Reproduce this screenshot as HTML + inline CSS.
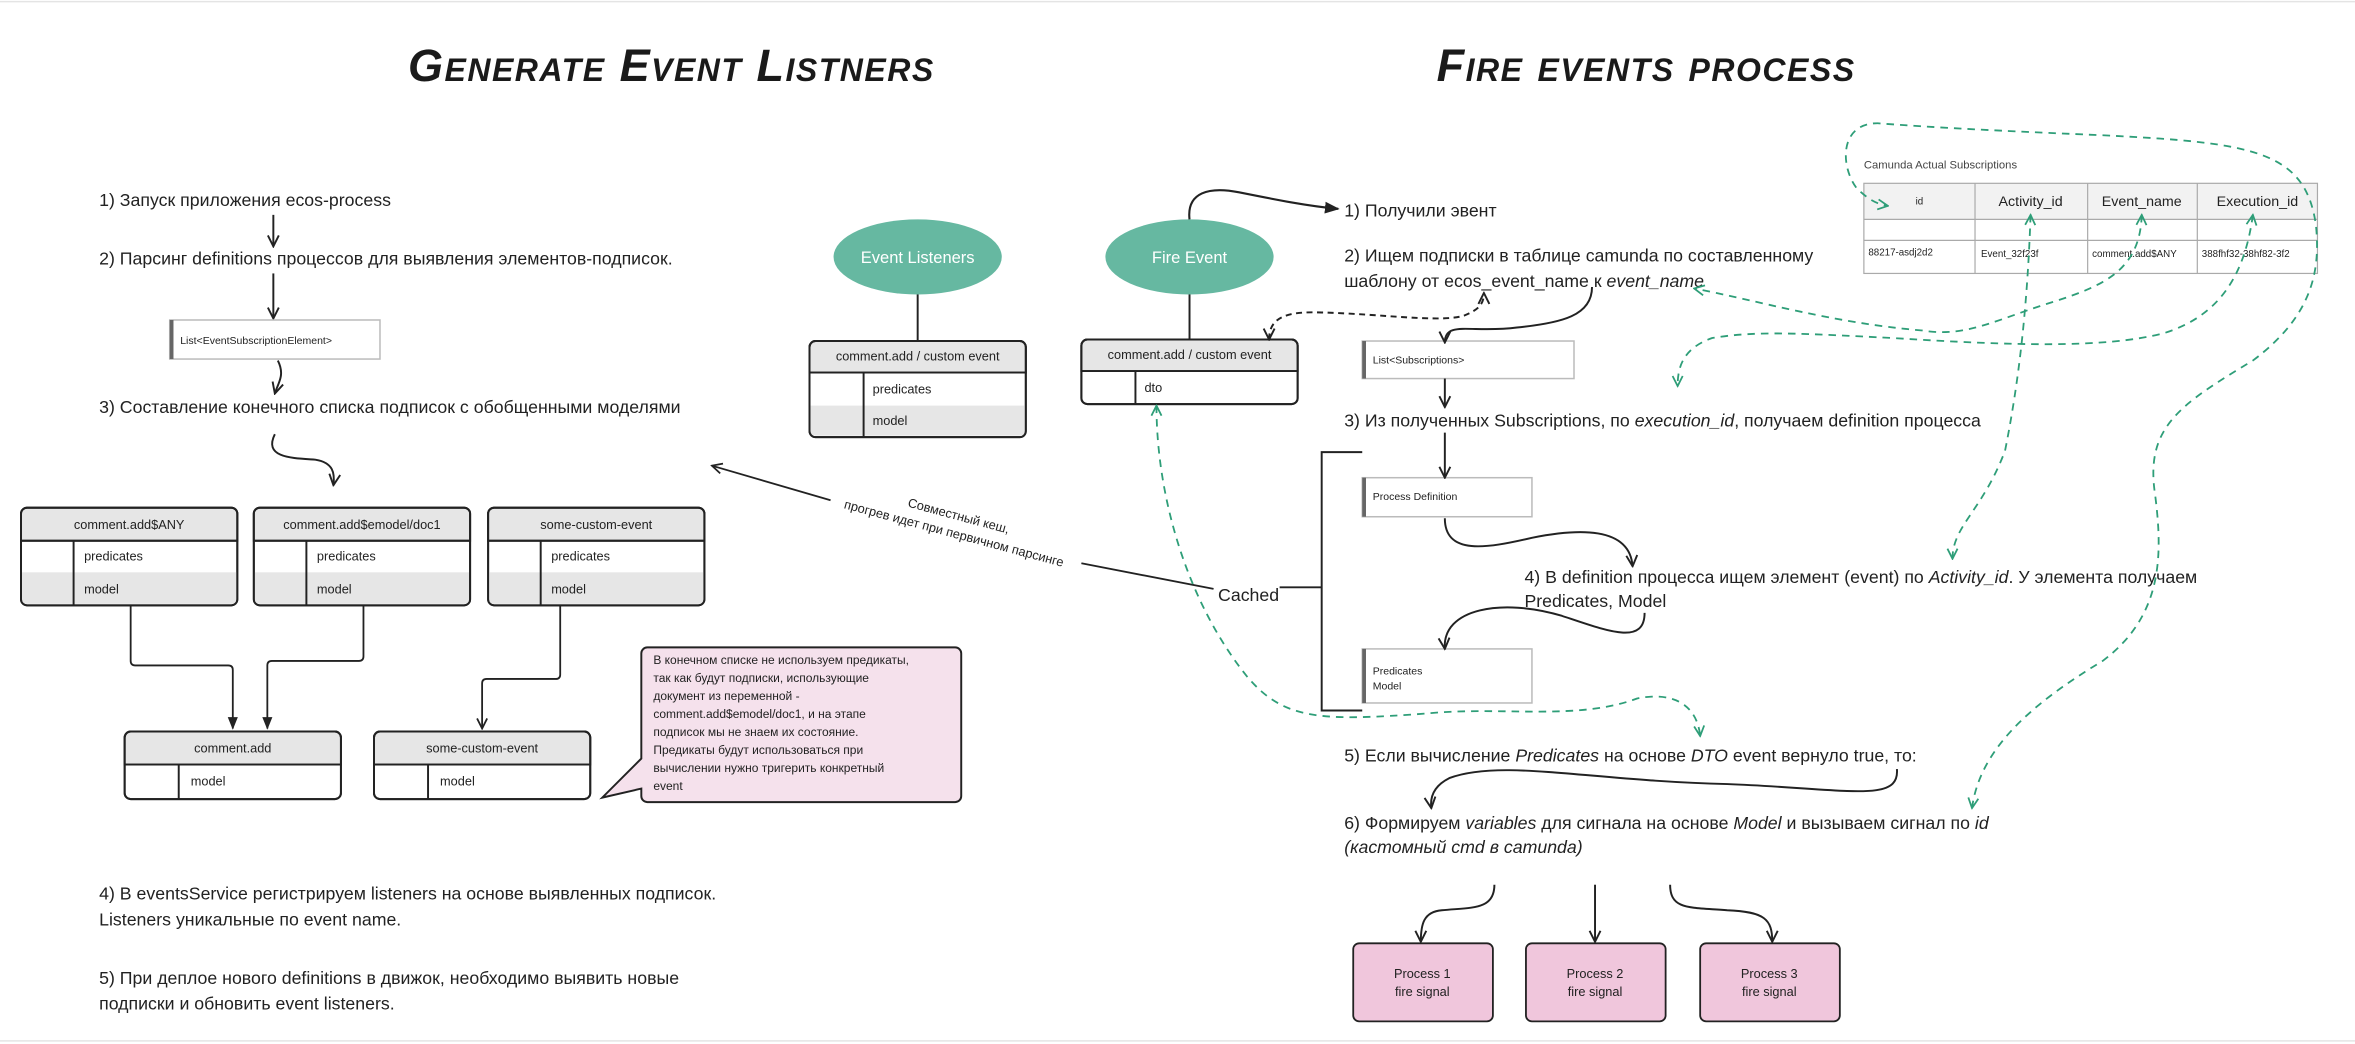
<!DOCTYPE html>
<html><head><meta charset="utf-8"><style>
html,body{margin:0;padding:0;background:#fff;}
svg{display:block;}
text{font-family:"Liberation Sans","DejaVu Sans",sans-serif;fill:#222;}
.t{font-size:11.8px;}
.s{font-size:8.5px;}
.c{font-size:8px;}
.xs{font-size:7px;}
.title{font-size:30px;font-weight:bold;font-style:italic;font-variant:small-caps;fill:#1a1a1a;letter-spacing:1px;}
</style></head><body>
<svg width="2355" height="1044" viewBox="0 0 1568 695" xmlns="http://www.w3.org/2000/svg">
<defs>
<marker id="a" viewBox="0 0 10 10" refX="9" refY="5" markerWidth="7" markerHeight="7" orient="auto-start-reverse"><path d="M1,1 L9,5 L1,9" fill="none" stroke="#222" stroke-width="1.4"/></marker>
<marker id="af" viewBox="0 0 10 10" refX="9" refY="5" markerWidth="7" markerHeight="7" orient="auto"><path d="M0,1 L10,5 L0,9 z" fill="#222"/></marker>
<marker id="g" viewBox="0 0 10 10" refX="9" refY="5" markerWidth="7" markerHeight="7" orient="auto-start-reverse"><path d="M1,1 L9,5 L1,9" fill="none" stroke="#2e9e78" stroke-width="1.4"/></marker>
</defs>
<rect x="0" y="0" width="1568" height="695" fill="#fff"/>
<line x1="0" y1="1" x2="1568" y2="1" stroke="#e4e4e4"/>
<line x1="0" y1="693" x2="1568" y2="693" stroke="#e4e4e4"/>

<text class="title" x="447" y="54" text-anchor="middle">Generate Event Listners</text>
<text class="title" x="1096" y="54" text-anchor="middle">Fire events process</text>

<!-- LEFT -->
<text class="t" x="66" y="137">1) Запуск приложения ecos-process</text>
<text class="t" x="66" y="176">2) Парсинг definitions процессов для выявления элементов-подписок.</text>
<text class="t" x="66" y="275">3) Составление конечного списка подписок с обобщенными моделями</text>
<text class="t" x="66" y="599">4) В eventsService регистрируем listeners на основе выявленных подписок.</text>
<text class="t" x="66" y="616">Listeners уникальные по event name.</text>
<text class="t" x="66" y="655">5) При деплое нового definitions в движок, необходимо выявить новые</text>
<text class="t" x="66" y="672">подписки и обновить event listeners.</text>
<g fill="none" stroke="#222" stroke-width="1.3">
<path d="M182,143 L182,164" marker-end="url(#a)"/>
<path d="M182,182 L182,212" marker-end="url(#a)"/>
<path d="M185,240 C190,250 185,255 183,262" marker-end="url(#a)"/>
<path d="M183,289 C175,305 195,305 210,306 C222,308 223,315 222,323" marker-end="url(#a)"/>
</g>
<rect x="113" y="213" width="140" height="26" fill="#fff" stroke="#bbb"/>
<rect x="113" y="213" width="2.5" height="26" fill="#666"/>
<text class="xs" x="120" y="229">List&lt;EventSubscriptionElement&gt;</text>

<g stroke="#222" stroke-width="1.3">
<g transform="translate(14,338)">
<rect x="0" y="0" width="144" height="65" rx="4" fill="#fff"/>
<path d="M0,22 V4 a4,4 0 0 1 4,-4 H140 a4,4 0 0 1 4,4 V22 z" fill="#e6e6e6"/>
<rect x="0.7" y="43" width="142.6" height="21" fill="#e6e6e6" stroke="none"/>
<rect x="0" y="0" width="144" height="65" rx="4" fill="none"/>
<line x1="0" y1="22" x2="144" y2="22"/><line x1="35" y1="22" x2="35" y2="65"/>
</g>
<g transform="translate(169,338)">
<rect x="0" y="0" width="144" height="65" rx="4" fill="#fff"/>
<path d="M0,22 V4 a4,4 0 0 1 4,-4 H140 a4,4 0 0 1 4,4 V22 z" fill="#e6e6e6"/>
<rect x="0.7" y="43" width="142.6" height="21" fill="#e6e6e6" stroke="none"/>
<rect x="0" y="0" width="144" height="65" rx="4" fill="none"/>
<line x1="0" y1="22" x2="144" y2="22"/><line x1="35" y1="22" x2="35" y2="65"/>
</g>
<g transform="translate(325,338)">
<rect x="0" y="0" width="144" height="65" rx="4" fill="#fff"/>
<path d="M0,22 V4 a4,4 0 0 1 4,-4 H140 a4,4 0 0 1 4,4 V22 z" fill="#e6e6e6"/>
<rect x="0.7" y="43" width="142.6" height="21" fill="#e6e6e6" stroke="none"/>
<rect x="0" y="0" width="144" height="65" rx="4" fill="none"/>
<line x1="0" y1="22" x2="144" y2="22"/><line x1="35" y1="22" x2="35" y2="65"/>
</g>
<g transform="translate(539,227)">
<rect x="0" y="0" width="144" height="64" rx="4" fill="#fff"/>
<path d="M0,21 V4 a4,4 0 0 1 4,-4 H140 a4,4 0 0 1 4,4 V21 z" fill="#e6e6e6"/>
<rect x="0.7" y="43" width="142.6" height="20" fill="#e6e6e6" stroke="none"/>
<rect x="0" y="0" width="144" height="64" rx="4" fill="none"/>
<line x1="0" y1="21" x2="144" y2="21"/><line x1="36" y1="21" x2="36" y2="64"/>
</g>
<g transform="translate(83,487)">
<rect x="0" y="0" width="144" height="45" rx="4" fill="#fff"/>
<path d="M0,22 V4 a4,4 0 0 1 4,-4 H140 a4,4 0 0 1 4,4 V22 z" fill="#e6e6e6"/>
<rect x="0" y="0" width="144" height="45" rx="4" fill="none"/>
<line x1="0" y1="22" x2="144" y2="22"/><line x1="36" y1="22" x2="36" y2="45"/>
</g>
<g transform="translate(249,487)">
<rect x="0" y="0" width="144" height="45" rx="4" fill="#fff"/>
<path d="M0,22 V4 a4,4 0 0 1 4,-4 H140 a4,4 0 0 1 4,4 V22 z" fill="#e6e6e6"/>
<rect x="0" y="0" width="144" height="45" rx="4" fill="none"/>
<line x1="0" y1="22" x2="144" y2="22"/><line x1="36" y1="22" x2="36" y2="45"/>
</g>
<g transform="translate(720,226)">
<rect x="0" y="0" width="144" height="43" rx="4" fill="#fff"/>
<path d="M0,21 V4 a4,4 0 0 1 4,-4 H140 a4,4 0 0 1 4,4 V21 z" fill="#e6e6e6"/>
<rect x="0" y="0" width="144" height="43" rx="4" fill="none"/>
<line x1="0" y1="21" x2="144" y2="21"/><line x1="36" y1="21" x2="36" y2="43"/>
</g>
</g>
<text class="s" x="86" y="352" text-anchor="middle">comment.add$ANY</text>
<text class="s" x="56" y="373">predicates</text><text class="s" x="56" y="395">model</text>
<text class="s" x="241" y="352" text-anchor="middle">comment.add$emodel/doc1</text>
<text class="s" x="211" y="373">predicates</text><text class="s" x="211" y="395">model</text>
<text class="s" x="397" y="352" text-anchor="middle">some-custom-event</text>
<text class="s" x="367" y="373">predicates</text><text class="s" x="367" y="395">model</text>
<text class="s" x="155" y="501" text-anchor="middle">comment.add</text>
<text class="s" x="127" y="523">model</text>
<text class="s" x="321" y="501" text-anchor="middle">some-custom-event</text>
<text class="s" x="293" y="523">model</text>
<text class="s" x="611" y="240" text-anchor="middle">comment.add / custom event</text>
<text class="s" x="581" y="262">predicates</text><text class="s" x="581" y="283">model</text>
<text class="s" x="792" y="239" text-anchor="middle">comment.add / custom event</text>
<text class="s" x="762" y="261">dto</text>
<g fill="none" stroke="#222" stroke-width="1.2">
<path d="M87,403 V440 Q87,443 90,443 H152 Q155,443 155,446 V485" marker-end="url(#af)"/>
<path d="M242,403 V437 Q242,440 239,440 H181 Q178,440 178,443 V485" marker-end="url(#af)"/>
<path d="M373,403 V449 Q373,452 370,452 H324 Q321,452 321,455 V485" marker-end="url(#a)"/>
</g>
<!-- callout -->
<path d="M431,431 H636 a4,4 0 0 1 4,4 V530 a4,4 0 0 1 -4,4 H431 a4,4 0 0 1 -4,-4 V525 L401,531 L427,505 V435 a4,4 0 0 1 4,-4 z" fill="#f5e1ec" stroke="#222" stroke-width="1.3"/>
<text class="c" x="435" y="442">В конечном списке не используем предикаты,</text>
<text class="c" x="435" y="454">так как будут подписки, использующие</text>
<text class="c" x="435" y="466">документ из переменной -</text>
<text class="c" x="435" y="478">comment.add$emodel/doc1, и на этапе</text>
<text class="c" x="435" y="490">подписок мы не знаем их состояние.</text>
<text class="c" x="435" y="502">Предикаты будут использоваться при</text>
<text class="c" x="435" y="514">вычислении нужно тригерить конкретный</text>
<text class="c" x="435" y="526">event</text>

<!-- middle -->
<ellipse cx="611" cy="171" rx="56" ry="25" fill="#66b8a1"/>
<text x="611" y="175" text-anchor="middle" style="font-size:11px;fill:#fff">Event Listeners</text>
<line x1="611" y1="196" x2="611" y2="227" stroke="#222" stroke-width="1.3"/>
<ellipse cx="792" cy="171" rx="56" ry="25" fill="#66b8a1"/>
<text x="792" y="175" text-anchor="middle" style="font-size:11px;fill:#fff">Fire Event</text>
<line x1="792" y1="196" x2="792" y2="226" stroke="#222" stroke-width="1.3"/>
<path d="M792,146 C790,128 805,124 825,128 C850,133 870,137 891,139" fill="none" stroke="#222" stroke-width="1.4" marker-end="url(#af)"/>

<path d="M808,392 L720,375" stroke="#222" stroke-width="1.2" fill="none"/>
<path d="M553,333 L474,310" stroke="#222" stroke-width="1.2" fill="none" marker-end="url(#a)"/>
<g transform="translate(636,352) rotate(15)">
<text class="s" x="0" y="-6" text-anchor="middle">Совместный кеш,</text>
<text class="s" x="0" y="6" text-anchor="middle">прогрев идет при первичном парсинге</text>
</g>
<text class="t" x="811" y="400">Cached</text>
<path d="M852,391 H880 M907,301 H880 V473 H907" fill="none" stroke="#222" stroke-width="1.3"/>

<!-- right text -->
<text class="t" x="895" y="144">1) Получили эвент</text>
<text class="t" x="895" y="174">2) Ищем подписки в таблице camunda по составленному</text>
<text class="t" x="895" y="191">шаблону от ecos_event_name к  <tspan font-style="italic">event_name</tspan></text>
<text class="t" x="895" y="284">3) Из полученных Subscriptions, по <tspan font-style="italic">execution_id</tspan>, получаем definition процесса</text>
<text class="t" x="1015" y="388">4) В definition процесса ищем элемент (event) по <tspan font-style="italic">Activity_id</tspan>. У элемента получаем</text>
<text class="t" x="1015" y="404">Predicates, Model</text>
<text class="t" x="895" y="507">5) Если вычисление <tspan font-style="italic">Predicates</tspan> на основе <tspan font-style="italic">DTO</tspan> event вернуло true, то:</text>
<text class="t" x="895" y="552">6) Формируем <tspan font-style="italic">variables</tspan> для сигнала на основе <tspan font-style="italic">Model</tspan> и вызываем сигнал по <tspan font-style="italic">id</tspan></text>
<text class="t" x="895" y="568" font-style="italic">(кастомный cmd в camunda)</text>

<rect x="907" y="227" width="141" height="25" fill="#fff" stroke="#bbb"/><rect x="907" y="227" width="2.5" height="25" fill="#666"/>
<text class="xs" x="914" y="242">List&lt;Subscriptions&gt;</text>
<rect x="907" y="318" width="113" height="26" fill="#fff" stroke="#bbb"/><rect x="907" y="318" width="2.5" height="26" fill="#666"/>
<text class="xs" x="914" y="333">Process Definition</text>
<rect x="907" y="432" width="113" height="36" fill="#fff" stroke="#bbb"/><rect x="907" y="432" width="2.5" height="36" fill="#666"/>
<text class="xs" x="914" y="449">Predicates</text><text class="xs" x="914" y="459">Model</text>
<g fill="none" stroke="#222" stroke-width="1.3">
<path d="M1060,191 C1060,210 1040,215 1010,218 C980,222 962,213 962,228" marker-end="url(#a)"/>
<path d="M962,252 V271" marker-end="url(#a)"/>
<path d="M962,288 V318" marker-end="url(#a)"/>
<path d="M962,345 C962,370 990,365 1020,358 C1050,352 1085,350 1087,377" marker-end="url(#a)"/>
<path d="M1095,408 C1095,430 1070,420 1040,410 C1000,398 960,405 962,432" marker-end="url(#a)"/>
<path d="M1263,512 C1265,535 1230,525 1150,522 C1060,520 1000,505 965,518 C955,523 952,530 953,538" marker-end="url(#a)"/>
<path d="M995,589 C995,606 980,604 960,606 C948,607 946,615 946,627" marker-end="url(#a)"/>
<path d="M1062,589 V627" marker-end="url(#a)"/>
<path d="M1112,589 C1112,606 1125,604 1150,606 C1175,607 1180,612 1180,627" marker-end="url(#a)"/>
</g>
<path d="M845,226 C845,212 855,207 880,208 C920,209 960,215 975,210 C985,206 988,202 988,195" fill="none" stroke="#222" stroke-width="1.3" stroke-dasharray="4,3" marker-start="url(#a)" marker-end="url(#a)"/>
<g stroke="#222" stroke-width="1.2">
<rect x="901" y="628" width="93" height="52" rx="4" fill="#f0c6dc"/>
<rect x="1016" y="628" width="93" height="52" rx="4" fill="#f0c6dc"/>
<rect x="1132" y="628" width="93" height="52" rx="4" fill="#f0c6dc"/>
</g>
<text class="s" x="947" y="651" text-anchor="middle">Process 1</text><text class="s" x="947" y="663" text-anchor="middle">fire signal</text>
<text class="s" x="1062" y="651" text-anchor="middle">Process 2</text><text class="s" x="1062" y="663" text-anchor="middle">fire signal</text>
<text class="s" x="1178" y="651" text-anchor="middle">Process 3</text><text class="s" x="1178" y="663" text-anchor="middle">fire signal</text>

<!-- camunda table -->
<text x="1241" y="112" style="font-size:7.5px;fill:#444">Camunda Actual Subscriptions</text>
<rect x="1241" y="122" width="302" height="24" fill="#f2f2f2"/>
<g stroke="#aaa" stroke-width="0.8" fill="none">
<rect x="1241" y="122" width="302" height="60"/>
<line x1="1241" y1="146" x2="1543" y2="146"/><line x1="1241" y1="160" x2="1543" y2="160"/>
<line x1="1315" y1="122" x2="1315" y2="182"/><line x1="1390" y1="122" x2="1390" y2="182"/><line x1="1463" y1="122" x2="1463" y2="182"/>
</g>
<text x="1278" y="136" text-anchor="middle" style="font-size:6.5px">id</text>
<text x="1352" y="137" text-anchor="middle" style="font-size:9.5px">Activity_id</text>
<text x="1426" y="137" text-anchor="middle" style="font-size:9.5px">Event_name</text>
<text x="1503" y="137" text-anchor="middle" style="font-size:9.5px">Execution_id</text>
<text x="1244" y="170" style="font-size:6.5px">88217-asdj2d2</text>
<text x="1319" y="171" style="font-size:6.5px">Event_32f23f</text>
<text x="1393" y="171" style="font-size:6.5px">comment.add$ANY</text>
<text x="1466" y="171" style="font-size:6.5px">388fhf32-38hf82-3f2</text>

<g fill="none" stroke="#2e9e78" stroke-width="1.2" stroke-dasharray="5,4">
<path d="M1352,143 C1350,200 1345,250 1335,300 C1320,340 1300,350 1300,372" marker-start="url(#g)" marker-end="url(#g)"/>
<path d="M1426,143 C1425,180 1400,190 1370,200 C1330,212 1310,225 1280,220 C1220,215 1170,200 1128,192" marker-start="url(#g)" marker-end="url(#g)"/>
<path d="M1500,143 C1495,180 1480,210 1440,222 C1400,232 1340,230 1260,225 C1200,222 1170,220 1140,225 C1120,232 1117,245 1117,257" marker-start="url(#g)" marker-end="url(#g)"/>
<path d="M1313,538 C1318,500 1350,470 1400,440 C1440,410 1440,370 1435,330 C1428,285 1450,270 1500,240 C1540,210 1545,180 1542,150 C1535,100 1500,95 1400,90 C1330,87 1290,85 1250,82 C1225,82 1225,110 1236,125 C1244,133 1250,136 1257,137" marker-start="url(#g)" marker-end="url(#g)"/>
<path d="M770,270 C770,330 790,400 830,450 C855,480 880,480 950,475 C1000,470 1050,480 1090,465 C1115,460 1130,470 1132,490" marker-start="url(#g)" marker-end="url(#g)"/>
</g>
</svg>
</body></html>
